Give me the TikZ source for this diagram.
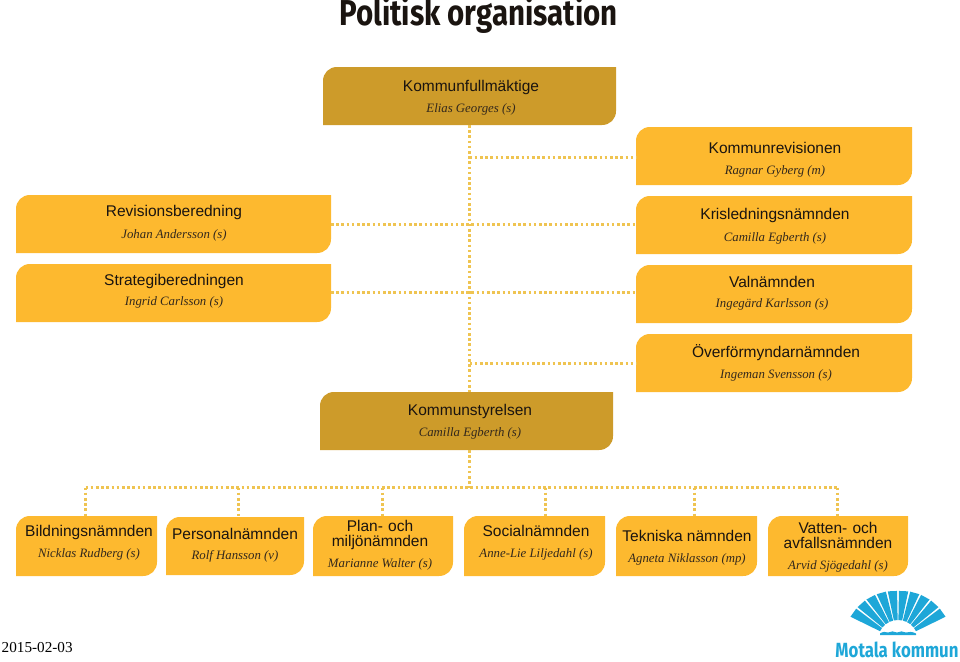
\documentclass[tikz,border=0pt]{standalone}
\usepackage{fontspec}
\setmainfont{Liberation Sans}
\newfontfamily\perfont{Liberation Serif}
\newfontfamily\condfont[FakeStretch=0.82]{Fira Sans}
\definecolor{boxA}{HTML}{FDB92F}
\definecolor{boxB}{HTML}{CD9B2A}
\definecolor{dotc}{HTML}{EFC451}
\definecolor{logoc}{HTML}{1EA7D8}
\definecolor{txt}{HTML}{1A1410}
\definecolor{ptxt}{HTML}{33281C}
\newcommand\orgbox[6]{%
  \pgfmathsetmacro\cxx{(#2+#4)/2}\pgfmathsetmacro\cyy{(#3+#5)/2}%
  \pgfmathsetmacro\www{#4-#2}\pgfmathsetmacro\hhh{#5-#3}%
  \node[inner sep=0pt,outer sep=0pt,minimum width=\www pt,minimum height=\hhh pt] (#1) at (\cxx,\cyy) {};%
  \pgfmathsetmacro\xa{#2+14}\pgfmathsetmacro\xb{#4-14}\pgfmathsetmacro\ya{#3+14}\pgfmathsetmacro\yb{#5-14}%
  \pgfmathsetmacro\xaa{#2+6}\pgfmathsetmacro\xbb{#4-6}\pgfmathsetmacro\yaa{#3+6}\pgfmathsetmacro\ybb{#5-6}%
  \fill[#6] (#2,#5) -- (#2,\ya) .. controls (#2,\yaa) and (\xaa,#3) .. (\xa,#3) -- (#4,#3) -- (#4,\yb) .. controls (#4,\ybb) and (\xbb,#5) .. (\xb,#5) -- cycle;%
}
\tikzset{
  ttl/.style={font=\fontsize{15.5}{15.5}\selectfont,text=txt,inner sep=0pt,align=center},
  per/.style={font=\perfont\itshape\fontsize{12.8}{14}\selectfont,text=ptxt,inner sep=0pt},
  dots/.style={dotc,line width=2.6pt,dash pattern=on 2.6pt off 2.6pt},
}
\begin{document}
\begin{tikzpicture}[x=1pt,y=-1pt]
\useasboundingbox (0,0) rectangle (960,661);
\node[font=\condfont\bfseries\fontsize{36}{36}\selectfont,text=txt,inner sep=0pt] (title) at (478.5,15) {Politisk organisation};

\orgbox{kf}{323}{67}{616}{125}{boxB}
\orgbox{kr}{636}{127}{912}{185}{boxA}
\orgbox{kl}{636}{196}{912}{254}{boxA}
\orgbox{vn}{636}{265}{912}{323}{boxA}
\orgbox{of}{636}{334}{912}{392}{boxA}
\orgbox{rb}{16}{195}{331}{253}{boxA}
\orgbox{sb}{16}{264}{331}{322}{boxA}
\orgbox{ks}{320}{392}{613}{450}{boxB}
\orgbox{bn}{16}{516}{157}{576}{boxA}
\orgbox{pn}{166}{517}{304}{575}{boxA}
\orgbox{mn}{313}{516}{453}{576}{boxA}
\orgbox{sn}{464}{516}{605}{576}{boxA}
\orgbox{tn}{616}{516}{757}{576}{boxA}
\orgbox{an}{768}{516}{908}{576}{boxA}

\node[ttl] (kft) at (471,87) {Kommunfullmäktige};
\node[per] (kfp) at (471,109) {Elias Georges (s)};
\node[ttl] (krt) at (775,148) {Kommunrevisionen};
\node[per] (krp) at (775,171) {Ragnar Gyberg (m)};
\node[ttl] (klt) at (775,215) {Krisledningsnämnden};
\node[per] (klp) at (775,238) {Camilla Egberth (s)};
\node[ttl] (vnt) at (772,282) {Valnämnden};
\node[per] (vnp) at (772,304) {Ingegärd Karlsson (s)};
\node[ttl] (oft) at (776,353) {Överförmyndarnämnden};
\node[per] (ofp) at (776,375) {Ingeman Svensson (s)};
\node[ttl] (rbt) at (174,212.5) {Revisionsberedning};
\node[per] (rbp) at (174,235) {Johan Andersson (s)};
\node[ttl] (sbt) at (174,281) {Strategiberedningen};
\node[per] (sbp) at (174,302) {Ingrid Carlsson (s)};
\node[ttl] (kst) at (470,411) {Kommunstyrelsen};
\node[per] (ksp) at (470,433) {Camilla Egberth (s)};
\node[ttl] (bnt) at (89,532) {Bildningsnämnden};
\node[per] (bnp) at (89,554) {Nicklas Rudberg (s)};
\node[ttl] (pnt) at (235,534) {Personalnämnden};
\node[per] (pnp) at (235,556) {Rolf Hansson (v)};
\node[ttl,text width=130pt,font=\fontsize{15.5}{14.5}\selectfont] (mnt) at (380,535) {Plan- och\\miljönämnden};
\node[per] (mnp) at (380,564) {Marianne Walter (s)};
\node[ttl] (snt) at (536,531) {Socialnämnden};
\node[per] (snp) at (536,554) {Anne-Lie Liljedahl (s)};
\node[ttl] (tnt) at (687,536) {Tekniska nämnden};
\node[per] (tnp) at (687,559) {Agneta Niklasson (mp)};
\node[ttl,text width=130pt,font=\fontsize{15.5}{15}\selectfont] (ant) at (838,535.5) {Vatten- och\\avfallsnämnden};
\node[per] (anp) at (838,566) {Arvid Sjögedahl (s)};

\coordinate (bus) at (469.5,487.5);
\coordinate (b1) at (85.5,487.5);
\coordinate (b2) at (238.5,487.5);
\coordinate (b3) at (382.5,487.5);
\coordinate (b4) at (545.5,487.5);
\coordinate (b5) at (694.5,487.5);
\coordinate (b6) at (837.5,487.5);
\coordinate (krj) at (469.5,157.5);
\coordinate (klj) at (469.5,224.5);
\coordinate (vnj) at (469.5,292.5);
\coordinate (ofj) at (469.5,363.5);

\draw[dots] (kf.south) -- (kf.south |- ks.north);
\draw[dots] (krj) -- (krj -| kr.west);
\draw[dots] (ofj) -- (ofj -| of.west);
\draw[dots] (klj -| rb.east) -- (klj -| kl.west);
\draw[dots] (vnj -| sb.east) -- (vnj -| vn.west);
\draw[dots] (bus |- ks.south) -- (bus);
\draw[dots] (b1) -- (b6);
\draw[dots] (b1) -- (b1 |- bn.north);
\draw[dots] (b2) -- (b2 |- pn.north);
\draw[dots] (b3) -- (b3 |- mn.north);
\draw[dots] (b4) -- (b4 |- sn.north);
\draw[dots] (b5) -- (b5 |- tn.north);
\draw[dots] (b6) -- (b6 |- an.north);

\node[font=\perfont\fontsize{15.2}{16}\selectfont,text=black,inner sep=0pt,anchor=west] (date) at (1.5,648) {2015-02-03};

% logo
\begin{scope}[shift={(898,640)}]
  \foreach \i in {0,...,9}{
    \pgfmathsetmacro\aa{155-13*\i-1.1}
    \pgfmathsetmacro\ab{155-13*(\i+1)+1.1}
    \pgfmathsetmacro\ra{49+4*abs(\aa-90)/65}
    \pgfmathsetmacro\rb{49+4*abs(\ab-90)/65}
    \fill[logoc] (-\aa:\ra) -- (-\ab:\rb) -- (-\ab:20) -- (-\aa:20) -- cycle;
  }
  \fill[logoc] (-18,-6.5) .. controls (-15,-8.5) and (-13,-8.5) .. (-10,-7.5) .. controls (-7,-9) and (-4,-9) .. (-1,-7.5) .. controls (2,-9) and (5,-9) .. (8,-7.5) .. controls (11,-8.5) and (14,-8.5) .. (18,-6.5) -- (18,-5) -- (-18,-5) -- cycle;
\end{scope}
\node[font=\condfont\bfseries\fontsize{20.5}{21}\selectfont,text=logoc,inner sep=0pt] (logotext) at (897,649.5) {Motala kommun};
\end{tikzpicture}
\end{document}
